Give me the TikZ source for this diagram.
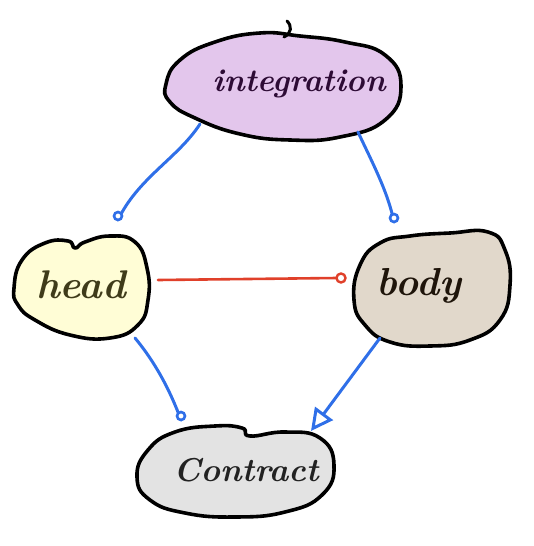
\documentclass[tikz,border=0pt]{standalone}
\usetikzlibrary{arrows.meta}
\definecolor{intfill}{HTML}{E3C6EC}
\definecolor{headfill}{HTML}{FFFDD6}
\definecolor{bodyfill}{HTML}{E1D8CB}
\definecolor{confill}{HTML}{E3E3E3}
\definecolor{inttext}{HTML}{2D0B35}
\definecolor{headtext}{HTML}{3F3B1A}
\definecolor{bodytext}{HTML}{1E140A}
\definecolor{context}{HTML}{222222}
\definecolor{linkblue}{HTML}{2F6FE8}
\definecolor{linkred}{HTML}{E0402A}
\begin{document}
\begin{tikzpicture}[x=1pt,y=-1pt,
  blob/.style={draw=black,line width=3.6pt,line join=round},
  lbl/.style={font=\bfseries\itshape},
  bluelink/.style={draw=linkblue,line width=3pt,line cap=round},
  redlink/.style={draw=linkred,line width=2.6pt,line cap=round},
  dotend/.style={draw=linkblue,line width=2.6pt,fill=white}]
\useasboundingbox (0,0) rectangle (534,546);
% blobs
\path[blob,fill=intfill] plot[smooth cycle,tension=0.8] coordinates {(166,84) (180,60) (215,42) (260,33) (300,36) (345,42) (385,55) (401,86) (385,120) (340,137) (290,140) (240,134) (195,118) (170,102)};
\draw[line width=3pt,line cap=round] (284,37) .. controls (292,33) and (292,26) .. (287,21);
\path[blob,fill=headfill] plot[smooth cycle,tension=0.8] coordinates {(14,288) (22,260) (45,243) (68,241) (75,248) (85,242) (110,236) (135,242) (147,268) (148,300) (138,325) (110,338) (70,335) (35,320) (18,305)};
\path[blob,fill=bodyfill] plot[smooth cycle,tension=0.8] coordinates {(354,300) (360,265) (380,243) (410,236) (450,233) (488,232) (505,250) (510,285) (500,320) (470,340) (430,346) (390,342) (365,325)};
\path[blob,fill=confill] plot[smooth cycle,tension=0.8] coordinates {(137,477) (148,450) (175,432) (215,426) (242,428) (250,436) (285,432) (320,438) (334,465) (322,495) (285,512) (235,517) (185,513) (150,500)};
% labels
\node[lbl,text=inttext,font=\fontsize{32}{38}\selectfont\bfseries\itshape] (integ) at (299,84) {integration};
\node[lbl,text=headtext,font=\fontsize{40}{46}\selectfont\bfseries\itshape] (head) at (81,285) {head};
\node[lbl,text=bodytext,font=\fontsize{39}{45}\selectfont\bfseries\itshape] (body) at (419,286) {body};
\node[lbl,text=context,font=\fontsize{33}{39}\selectfont\bfseries\itshape] (contract) at (246,470) {Contract};
% connector anchors
\coordinate (i1) at (200,124);
\coordinate (h1) at (118,216);
\coordinate (i2) at (358,132);
\coordinate (b1) at (394,218);
\coordinate (h2) at (135,338);
\coordinate (c1) at (181,416);
\coordinate (b2) at (380,338);
\coordinate (c2) at (311,431);
\coordinate (h3) at (158,280);
\coordinate (b3) at (341,278);
% connectors
\draw[bluelink] (i1) .. controls (178,158) and (138,178) .. ([yshift=-4pt]h1);
\draw[dotend] (h1) circle (4);
\draw[bluelink] (i2) .. controls (372,162) and (388,192) .. ([yshift=-4pt]b1);
\draw[dotend] (b1) circle (4);
\draw[bluelink] (h2) .. controls (155,362) and (170,390) .. ([yshift=-4pt]c1);
\draw[dotend] (c1) circle (4);
\draw[bluelink,-{Triangle[open,length=22pt,width=22pt,line width=3pt]}] (b2) -- (c2);
\draw[redlink] (h3) -- ([xshift=-4pt]b3);
\draw[draw=linkred,line width=2.4pt,fill=white] (b3) circle (4.5);
\end{tikzpicture}
\end{document}
